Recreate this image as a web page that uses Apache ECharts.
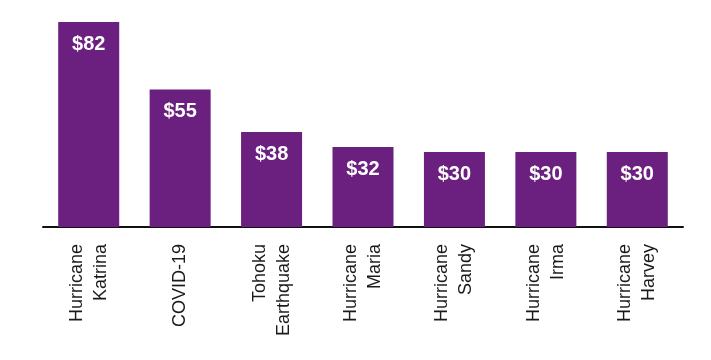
<!DOCTYPE html>
<html>
<head>
<meta charset="utf-8">
<script src="https://cdn.jsdelivr.net/npm/echarts@6/dist/echarts.min.js"></script>
<style>html,body{margin:0;padding:0;background:#fff}#c{width:711px;height:360px}</style>
</head>
<body>
<div id="c"></div>
<script>
const categories = ['Hurricane\nKatrina', 'COVID-19', 'Tohoku\nEarthquake', 'Hurricane\nMaria', 'Hurricane\nSandy', 'Hurricane\nIrma', 'Hurricane\nHarvey'];
const values = [82, 55, 38, 32, 30, 30, 30];

const chart = echarts.init(document.getElementById('c'), null, {renderer: 'canvas'});
chart.setOption({
  animation: false,
  grid: {left: 43, right: 28, top: 22, bottom: 133},
  xAxis: {
    type: 'category',
    data: categories,
    axisLine: {lineStyle: {color: '#111', width: 2}},
    axisTick: {show: false},
    axisLabel: {
      rotate: 90,
      margin: 17,
      fontFamily: 'Liberation Sans, Arial, sans-serif',
      fontSize: 18,
      lineHeight: 24,
      color: '#1a1a1a',
      interval: 0
    }
  },
  yAxis: {type: 'value', min: 0, max: 82, show: false, splitLine: {show: false}},
  series: [{
    type: 'bar',
    data: values,
    barWidth: 61,
    itemStyle: {color: '#6b1f7e'},
    label: {
      show: true,
      position: 'insideTop',
      distance: 12,
      color: '#fff',
      fontWeight: 'bold',
      fontSize: 20,
      fontFamily: 'Liberation Sans, Arial, sans-serif',
      formatter: p => '$' + p.value
    }
  }]
});
</script>
</body>
</html>
